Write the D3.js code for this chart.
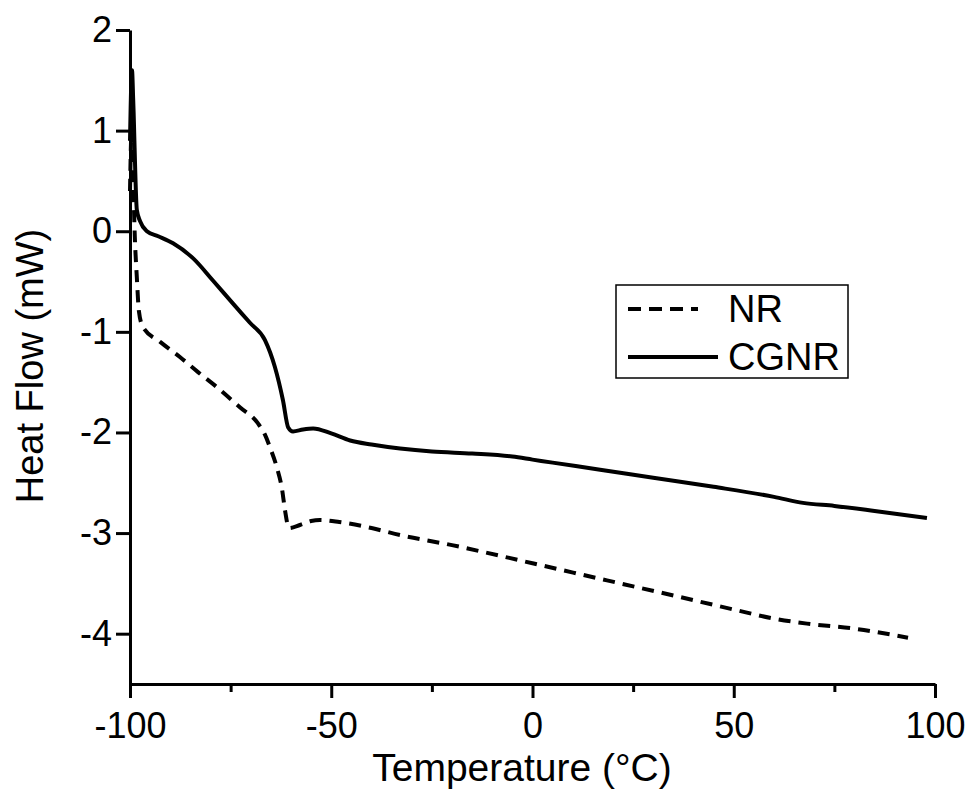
<!DOCTYPE html>
<html>
<head>
<meta charset="utf-8">
<script src="https://cdn.jsdelivr.net/npm/d3@7"></script>
<style>
  body { margin: 0; background: #fff; }
  text { font-family: "Liberation Sans", Arial, sans-serif; fill: #000; }
</style>
</head>
<body>
<div id="chart"></div>
<script>
// DSC curves
var nrTemp = [-100, -99.6, -99.2, -98.8, -98.3, -97.8, -96.8, -92.5, -87.6, -83.1, -78.4, -72.7, -68.2, -66.5, -65.2, -63.5, -62.2, -61.5, -60.5, -57.8, -55, -52.8, -48, -40, -32.9, -20, 0, 18.5, 35, 50, 60, 68.2, 80, 93.3];
var nrFlow = [0.4, 1.0, 0.5, -0.06, -0.46, -0.79, -0.95, -1.10, -1.25, -1.40, -1.55, -1.75, -1.91, -2.02, -2.15, -2.35, -2.57, -2.77, -2.95, -2.92, -2.88, -2.87, -2.89, -2.95, -3.02, -3.12, -3.30, -3.47, -3.62, -3.76, -3.85, -3.90, -3.95, -4.04];

var cgnrTemp = [-100, -99.5, -99.2, -98.3, -97.5, -95.8, -93, -89.3, -84.3, -79.4, -74.4, -70.2, -66.5, -64, -62, -60.7, -59.5, -57, -54.5, -50, -45.3, -40, -32.9, -25, -15, -5, 0, 5, 16.8, 30, 45, 60, 67.2, 75, 85, 98];
var cgnrFlow = [0.9, 1.6, 1.3, 0.21, 0.1, 0.0, -0.05, -0.12, -0.27, -0.49, -0.72, -0.91, -1.08, -1.35, -1.68, -1.95, -1.99, -1.97, -1.96, -2.01, -2.08, -2.12, -2.16, -2.19, -2.21, -2.24, -2.27, -2.30, -2.37, -2.45, -2.54, -2.64, -2.70, -2.73, -2.78, -2.85];

var xTicks = [-100, -50, 0, 50, 100];
var xMinor = [-75, -25, 25, 75];
var yTicks = [2, 1, 0, -1, -2, -3, -4];

var seriesNames = ["NR", "CGNR"];

var width = 975, height = 793;
var margin = {top: 30, right: 40, bottom: 109, left: 130};
var w = 935 - margin.left;
var h = 684 - margin.top;

var svg = d3.select("#chart").append("svg")
    .attr("width", width)
    .attr("height", height);

var g = svg.append("g")
    .attr("transform", "translate(" + margin.left + "," + margin.top + ")");

var x = d3.scaleLinear().domain([-100, 100]).range([0, w]);
var y = d3.scaleLinear().domain([-4.5, 2]).range([h, 0]);

// plain hyphen labels like the original
var fmt = function(d) { return String(d); };

// minor x ticks
g.append("g")
    .attr("transform", "translate(0," + h + ")")
    .call(d3.axisBottom(x).tickValues(xMinor).tickSize(8).tickFormat(""))
    .call(function(a) {
      a.select(".domain").remove();
      a.selectAll("line").attr("stroke-width", 3);
    });

// major x ticks
g.append("g")
    .attr("transform", "translate(0," + h + ")")
    .call(d3.axisBottom(x).tickValues(xTicks).tickSize(14).tickPadding(14).tickSizeOuter(0).tickFormat(fmt))
    .call(function(a) {
      a.select(".domain").attr("stroke-width", 3);
      a.selectAll("line").attr("stroke-width", 3);
      a.selectAll("text").style("font-size", "36px").attr("dy", "0.71em");
    });

g.append("g")
    .call(d3.axisLeft(y).tickValues(yTicks).tickSize(14).tickPadding(4).tickSizeOuter(0).tickFormat(fmt))
    .call(function(a) {
      a.select(".domain").attr("stroke-width", 3);
      a.selectAll("line").attr("stroke-width", 3);
      a.selectAll("text").style("font-size", "36px");
    });

var line = d3.line()
    .x(function(d) { return x(d[0]); })
    .y(function(d) { return y(d[1]); })
    .curve(d3.curveMonotoneX);

var nrData = nrTemp.map(function(t, i) { return [t, nrFlow[i]]; });
var cgnrData = cgnrTemp.map(function(t, i) { return [t, cgnrFlow[i]]; });

g.append("path")
    .datum(nrData)
    .attr("fill", "none")
    .attr("stroke", "#000")
    .attr("stroke-width", 4)
    .attr("stroke-dasharray", "12,8")
    .attr("d", line);

g.append("path")
    .datum(cgnrData)
    .attr("fill", "none")
    .attr("stroke", "#000")
    .attr("stroke-width", 4)
    .attr("stroke-linejoin", "round")
    .attr("d", line);

// axis titles
svg.append("text")
    .attr("x", 522).attr("y", 781)
    .attr("text-anchor", "middle")
    .style("font-size", "39px")
    .text("Temperature (°C)");

svg.append("text")
    .attr("transform", "translate(43,366) rotate(-90)")
    .attr("text-anchor", "middle")
    .style("font-size", "38px")
    .text("Heat Flow (mW)");

// legend
var legend = svg.append("g").attr("transform", "translate(616,285)");
legend.append("rect")
    .attr("width", 232).attr("height", 93)
    .attr("fill", "#fff").attr("stroke", "#000").attr("stroke-width", 1.5);

seriesNames.forEach(function(name, i) {
  var ly = 24 + i * 48;
  legend.append("line")
    .attr("x1", 12).attr("x2", i === 0 ? 82 : 102)
    .attr("y1", ly).attr("y2", ly)
    .attr("stroke", "#000").attr("stroke-width", 4)
    .attr("stroke-dasharray", i === 0 ? "13,8" : null);
  legend.append("text")
    .attr("x", 112).attr("y", ly + 13)
    .style("font-size", "38px")
    .text(name);
});
</script>
</body>
</html>
